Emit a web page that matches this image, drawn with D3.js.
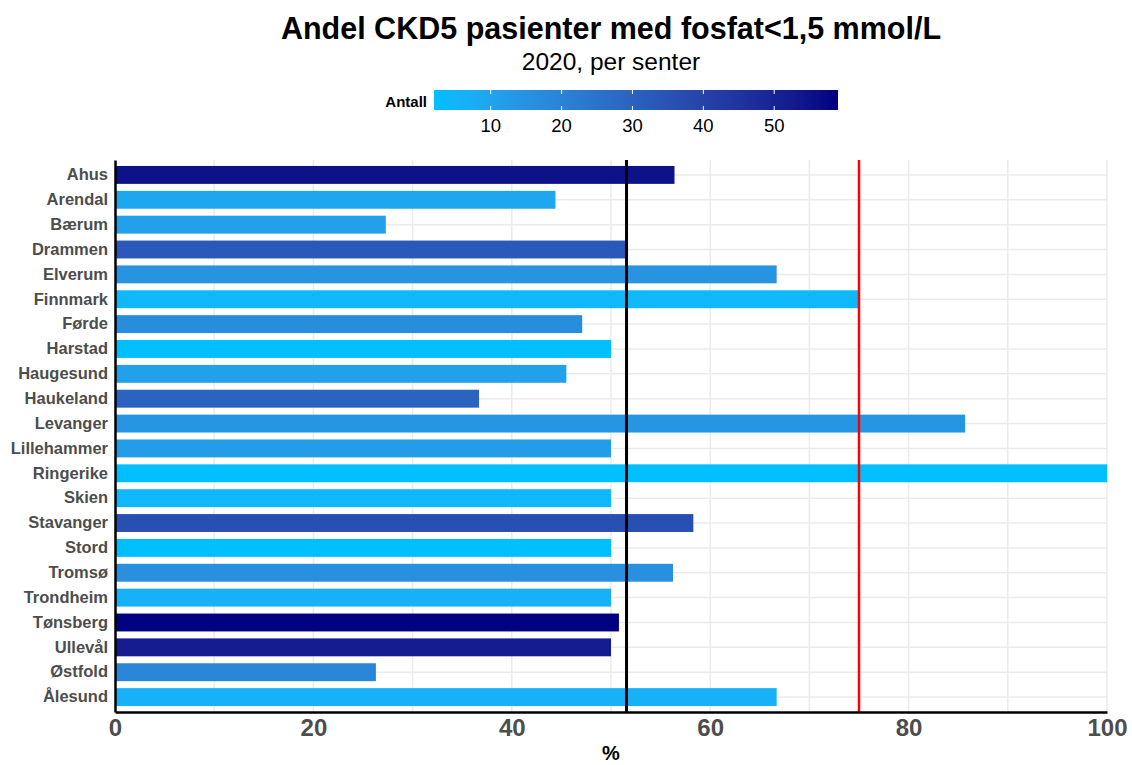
<!DOCTYPE html>
<html>
<head>
<meta charset="utf-8">
<script src="https://cdn.jsdelivr.net/npm/d3@7"></script>
<style>
  html, body { margin: 0; padding: 0; background: #fff; }
  svg { display: block; font-family: "Liberation Sans", Arial, Helvetica, sans-serif; }
</style>
</head>
<body>
<svg id="chart" width="1132" height="765"></svg>
<script>
// Dialysesentre, andel CKD5-pasienter med fosfat < 1,5 mmol/L (prosent) og antall pasienter
const senter = ["Ahus", "Arendal", "Bærum", "Drammen", "Elverum", "Finnmark", "Førde",
  "Harstad", "Haugesund", "Haukeland", "Levanger", "Lillehammer", "Ringerike", "Skien",
  "Stavanger", "Stord", "Tromsø", "Trondheim", "Tønsberg", "Ullevål", "Østfold", "Ålesund"];
const andel = [56.4, 44.4, 27.3, 51.5, 66.7, 75.0, 47.1,
  50.0, 45.5, 36.7, 85.7, 50.0, 100.0, 50.0,
  58.3, 50.0, 56.25, 50.0, 50.8, 50.0, 26.3, 66.7];
const antall = [55, 9, 11, 33, 15, 4, 17,
  2, 11, 30, 14, 12, 2, 4,
  36, 2, 16, 6, 59, 52, 19, 6];
const xTicks = [0, 20, 40, 60, 80, 100];
const legendTicks = [10, 20, 30, 40, 50];
const maalniva = 75;   // target level (red line)

// national share, weighted by number of patients
const landet = d3.sum(andel, (a, i) => a * antall[i]) / d3.sum(antall);

const svg = d3.select("#chart");
const m = { left: 115, right: 1107, top: 160, bottom: 712 };

// titles
svg.append("text").attr("x", 611).attr("y", 39)
  .attr("text-anchor", "middle").attr("font-size", 30.5).attr("font-weight", "bold")
  .attr("fill", "#000").text("Andel CKD5 pasienter med fosfat<1,5 mmol/L");
svg.append("text").attr("x", 611).attr("y", 70)
  .attr("text-anchor", "middle").attr("font-size", 24.5)
  .attr("fill", "#000").text("2020, per senter");

// colour scale for number of patients
const colour = d3.scaleLinear()
  .domain(d3.extent(antall))
  .range(["#00BFFF", "#000080"])
  .interpolate(d3.interpolateLab);

// legend colourbar
const lgX = d3.scaleLinear().domain(d3.extent(antall)).range([434, 838]);
const defs = svg.append("defs");
const grad = defs.append("linearGradient").attr("id", "antallGrad")
  .attr("x1", "0%").attr("x2", "100%").attr("y1", "0%").attr("y2", "0%");
d3.range(0, 1.0001, 0.05).forEach(t => {
  grad.append("stop").attr("offset", (t * 100) + "%")
    .attr("stop-color", colour(lgX.invert(434 + t * (838 - 434))));
});
const lgY = 90, lgH = 20;
svg.append("rect").attr("x", lgX.range()[0]).attr("y", lgY)
  .attr("width", lgX.range()[1] - lgX.range()[0]).attr("height", lgH)
  .attr("fill", "url(#antallGrad)");
const lg = svg.append("g");
legendTicks.forEach(v => {
  lg.append("line").attr("x1", lgX(v)).attr("x2", lgX(v))
    .attr("y1", lgY).attr("y2", lgY + 4).attr("stroke", "#fff").attr("stroke-width", 1);
  lg.append("line").attr("x1", lgX(v)).attr("x2", lgX(v))
    .attr("y1", lgY + lgH - 4).attr("y2", lgY + lgH).attr("stroke", "#fff").attr("stroke-width", 1);
  lg.append("text").attr("x", lgX(v)).attr("y", 132)
    .attr("text-anchor", "middle").attr("font-size", 18.5).attr("fill", "#000").text(v);
});
svg.append("text").attr("x", 427).attr("y", 107)
  .attr("text-anchor", "end").attr("font-size", 15).attr("font-weight", "bold")
  .attr("fill", "#000").text("Antall");

// scales
const x = d3.scaleLinear().domain([0, 100]).range([m.left, m.right]);
const y = d3.scaleBand().domain(senter).range([m.top, m.bottom]).paddingOuter(0.1).paddingInner(0);
const step = y.step();
const barH = step * 0.72;

// grid
const grid = svg.append("g");
d3.range(10, 101, 10).forEach(v => {
  grid.append("line").attr("x1", x(v)).attr("x2", x(v))
    .attr("y1", m.top).attr("y2", m.bottom)
    .attr("stroke", "#ebebeb").attr("stroke-width", 1.5);
});
senter.forEach(s => {
  const cy = y(s) + step / 2;
  grid.append("line").attr("x1", m.left).attr("x2", m.right)
    .attr("y1", cy).attr("y2", cy)
    .attr("stroke", "#ebebeb").attr("stroke-width", 1.5);
});

// bars
svg.append("g").selectAll("rect").data(senter).join("rect")
  .attr("x", x(0))
  .attr("y", s => y(s) + step / 2 - barH / 2)
  .attr("width", (s, i) => x(andel[i]) - x(0))
  .attr("height", barH)
  .attr("fill", (s, i) => colour(antall[i]));

// reference lines
svg.append("line").attr("x1", x(landet)).attr("x2", x(landet))
  .attr("y1", m.top).attr("y2", m.bottom)
  .attr("stroke", "#000").attr("stroke-width", 3);
svg.append("line").attr("x1", x(maalniva)).attr("x2", x(maalniva))
  .attr("y1", m.top).attr("y2", m.bottom)
  .attr("stroke", "#ff0000").attr("stroke-width", 2.5);

// axes
const xAxis = svg.append("g").attr("transform", `translate(0,${m.bottom})`)
  .call(d3.axisBottom(x).tickValues(xTicks).tickSize(0).tickPadding(7));
xAxis.select(".domain").attr("stroke", "#000").attr("stroke-width", 2.5);
xAxis.selectAll("text").attr("font-size", 24).attr("font-weight", "bold")
  .attr("fill", "#4d4d4d").attr("font-family", "Liberation Sans, Arial, sans-serif");

const yAxis = svg.append("g").attr("transform", `translate(${m.left},0)`)
  .call(d3.axisLeft(y).tickSize(0).tickPadding(7));
yAxis.select(".domain").attr("stroke", "#000").attr("stroke-width", 2.5);
yAxis.selectAll("text").attr("font-size", 16.5).attr("font-weight", "bold")
  .attr("fill", "#4d4d4d").attr("font-family", "Liberation Sans, Arial, sans-serif");

svg.append("text").attr("x", 611).attr("y", 760)
  .attr("text-anchor", "middle").attr("font-size", 20).attr("font-weight", "bold")
  .attr("fill", "#000").text("%");
</script>
</body>
</html>
